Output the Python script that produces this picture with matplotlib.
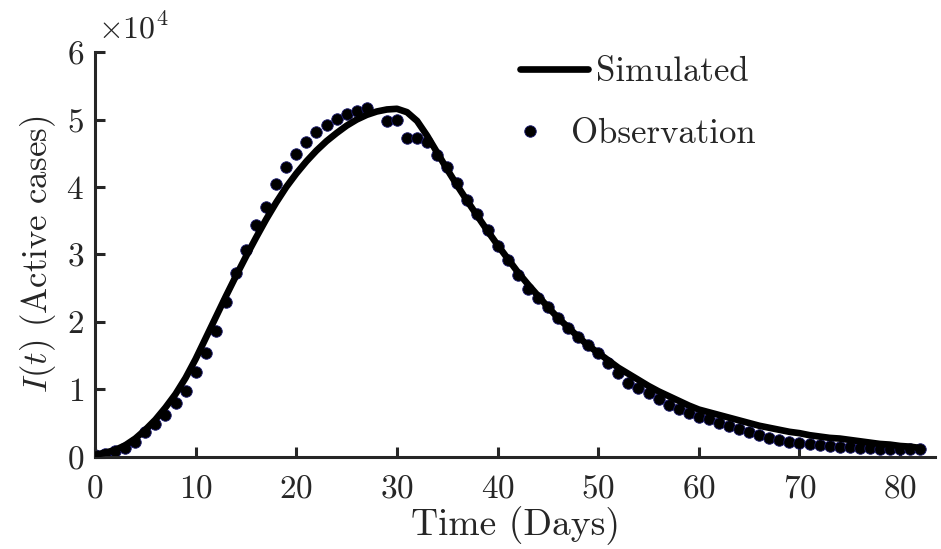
import matplotlib
matplotlib.use('Agg')
import matplotlib.pyplot as plt
import numpy as np

# --- data (units of 1e4 active cases) ---
obs_days = [0, 1, 2, 3, 4, 5, 6, 7, 8, 9, 10, 11, 12, 13, 14, 15, 16, 17, 18, 19,
            20, 21, 22, 23, 24, 25, 26, 27, 29, 30, 31, 32, 33, 34, 35, 36, 37, 38, 39,
            40, 41, 42, 43, 44, 45, 46, 47, 48, 49, 50, 51, 52, 53, 54, 55, 56, 57, 58,
            59, 60, 61, 62, 63, 64, 65, 66, 67, 68, 69, 70, 71, 72, 73, 74, 75, 76, 77,
            78, 79, 80, 81, 82]
obs_cases = [0.03, 0.04, 0.08, 0.13, 0.22, 0.37, 0.49, 0.62, 0.80, 0.98, 1.25, 1.54,
             1.87, 2.30, 2.73, 3.07, 3.44, 3.70, 4.04, 4.30, 4.49, 4.67, 4.81, 4.92,
             5.01, 5.08, 5.13, 5.17, 4.98, 4.99, 4.72, 4.73, 4.67, 4.47, 4.29, 4.06,
             3.81, 3.60, 3.36, 3.13, 2.92, 2.69, 2.49, 2.36, 2.22, 2.06, 1.91, 1.78,
             1.66, 1.54, 1.39, 1.24, 1.10, 1.02, 0.95, 0.86, 0.77, 0.71, 0.65, 0.59,
             0.56, 0.50, 0.46, 0.41, 0.37, 0.33, 0.28, 0.25, 0.22, 0.21, 0.19, 0.18,
             0.16, 0.15, 0.14, 0.13, 0.13, 0.12, 0.12, 0.11, 0.11, 0.11]

sim_days = list(range(0, 83))
sim_cases = [0.03, 0.06, 0.10, 0.17, 0.27, 0.40, 0.55, 0.73, 0.93, 1.17,
             1.45, 1.76, 2.07, 2.38, 2.68, 2.97, 3.25, 3.52, 3.77, 4.00,
             4.20, 4.38, 4.54, 4.68, 4.80, 4.91, 5.00, 5.07, 5.12, 5.15,
             5.16, 5.11, 4.98, 4.76, 4.51, 4.26, 4.02, 3.79, 3.57, 3.35,
             3.14, 2.94, 2.74, 2.56, 2.39, 2.22, 2.06, 1.92, 1.78, 1.65,
             1.54, 1.43, 1.32, 1.23, 1.14, 1.05, 0.97, 0.90, 0.83, 0.76,
             0.70, 0.66, 0.62, 0.58, 0.54, 0.50, 0.46, 0.43, 0.40, 0.37,
             0.35, 0.32, 0.30, 0.28, 0.27, 0.25, 0.23, 0.21, 0.19, 0.18,
             0.16, 0.15, 0.13]

x_ticks = [0, 10, 20, 30, 40, 50, 60, 70, 80]
y_ticks = [0, 1, 2, 3, 4, 5, 6]

# MATLAB-like look with Computer Modern text
plt.rcParams['font.family'] = 'serif'
plt.rcParams['font.serif'] = ['cmr10']
plt.rcParams['mathtext.fontset'] = 'cm'
plt.rcParams['axes.formatter.use_mathtext'] = True

fig = plt.figure(figsize=(9.41, 5.49), dpi=100)
ax = fig.add_axes([0.101, 0.168, 0.893, 0.737])

obs, = ax.plot(obs_days, obs_cases, linestyle='none', marker='o', markersize=8.3,
               markerfacecolor='black', markeredgecolor='#1a1a70', markeredgewidth=0.6,
               label='Observation', zorder=2)
sim, = ax.plot(sim_days, sim_cases, color='black', linewidth=4.8,
               solid_capstyle='round', solid_joinstyle='round',
               label='Simulated', zorder=3)

ax.set_xlim(0, 83.5)
ax.set_ylim(0, 6)
ax.set_xticks(x_ticks)
ax.set_yticks(y_ticks)

axis_col = '#262626'
for side in ['top', 'right']:
    ax.spines[side].set_visible(False)
for side in ['left', 'bottom']:
    ax.spines[side].set_color(axis_col)
    ax.spines[side].set_linewidth(2.2)
ax.tick_params(direction='in', length=7, width=2.2, color=axis_col,
               labelsize=24, labelcolor=axis_col)
ax.tick_params(axis='x', pad=13)
ax.tick_params(axis='y', pad=8)

ax.set_xlabel('Time (Days)', fontsize=27, color=axis_col, labelpad=2)
ax.set_ylabel('$I(t)$ (Active cases)', fontsize=25, color=axis_col, labelpad=6)
ax.text(0.004, 1.02, r'$\times 10^4$', transform=ax.transAxes, fontsize=23,
        color=axis_col, ha='left', va='bottom')

# two separate legend entries, placed like the original
leg1 = fig.legend(handles=[sim], loc='center left',
                  bbox_to_anchor=(520 / 941, 1 - 72 / 549), frameon=False,
                  fontsize=25, handlelength=1.95, handletextpad=0.24,
                  borderpad=0, borderaxespad=0)
leg2 = fig.legend(handles=[obs], loc='center left',
                  bbox_to_anchor=(513 / 941, 1 - 134 / 549), frameon=False,
                  fontsize=25, handlelength=1.0, handletextpad=0.68,
                  borderpad=0, borderaxespad=0)
for leg in [leg1, leg2]:
    for t in leg.get_texts():
        t.set_color(axis_col)

fig.savefig('out.png', dpi=100, facecolor='white')
plt.close(fig)
